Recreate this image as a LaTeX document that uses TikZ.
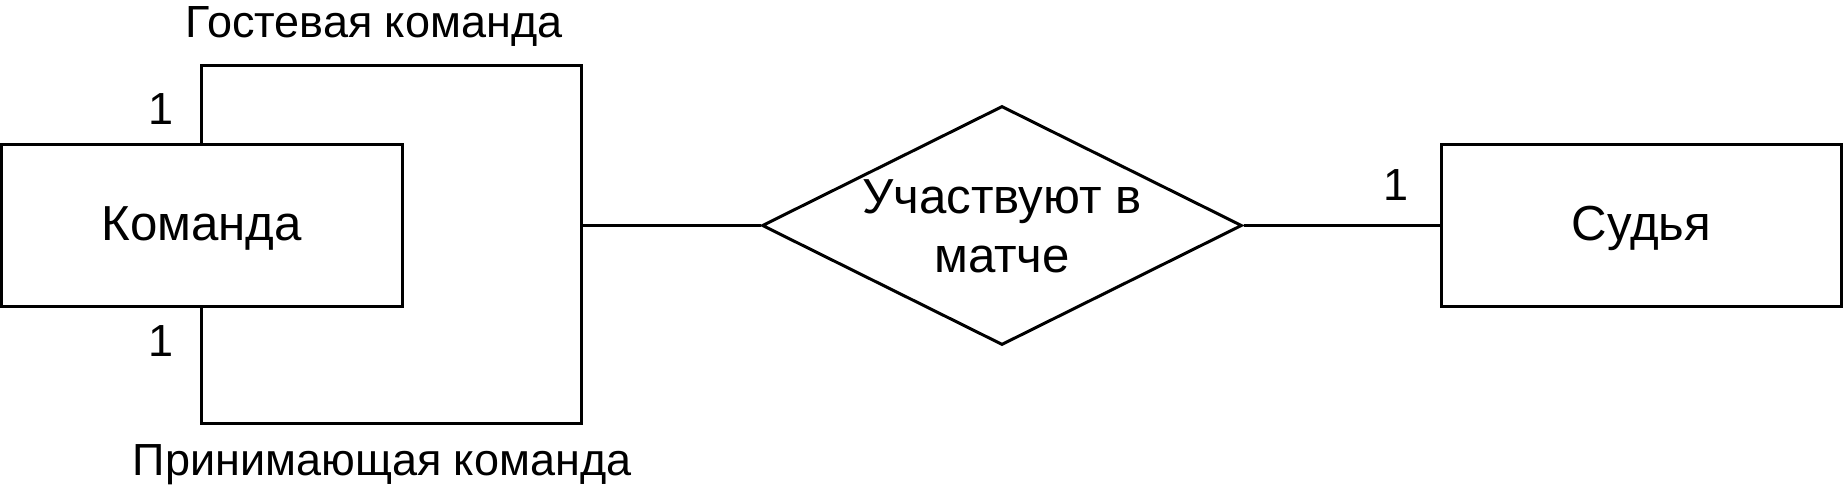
\documentclass[tikz,border=0pt]{standalone}
\usepackage{fontspec}
\setmainfont{Liberation Sans}
\usetikzlibrary{shapes.geometric}
\begin{document}
\begin{tikzpicture}[x=0.5pt,y=-0.5pt,
  line width=1.5pt,
  entity/.style={draw, rectangle, minimum width=200.25pt, minimum height=80.5pt, inner sep=0pt},
  relation/.style={draw, diamond, minimum width=240pt, minimum height=119.5pt, inner sep=0pt},
  etext/.style={font=\fontsize{24.6}{29.5}\selectfont, inner sep=0pt},
  lbl/.style={font=\fontsize{22.5}{27}\selectfont, inner sep=0pt}]
\useasboundingbox (0,0) rectangle (1844,492);
\node[entity] (kom) at (201.75,225.5) {};
\node[entity] (sud) at (1641.5,225.5) {};
\node[etext] (komtext) at (201.75,228) {Команда};
\node[etext] (sudtext) at (1641.5,228) {Судья};
\node[relation] (rel) at (1002,225.5) {};
\node[etext, align=center] (reltext) at (1002,226) {Участвуют в\\матче};
\coordinate (tr) at (581,66);
\coordinate (br) at (581,423);
\coordinate (mid) at (581,225.5);
\draw (kom.north) |- (tr) -- (br) -| (kom.south);
\draw (mid) -- (rel.west);
\draw (rel.east) -- (sud.west);
\node[lbl] (guest) at (374,26) {Гостевая команда};
\node[lbl] (host) at (382,465) {Принимающая команда};
\node[lbl] (c1) at (161,109) {1};
\node[lbl] (c2) at (161,341) {1};
\node[lbl] (c3) at (1396,185) {1};
\end{tikzpicture}
\end{document}
